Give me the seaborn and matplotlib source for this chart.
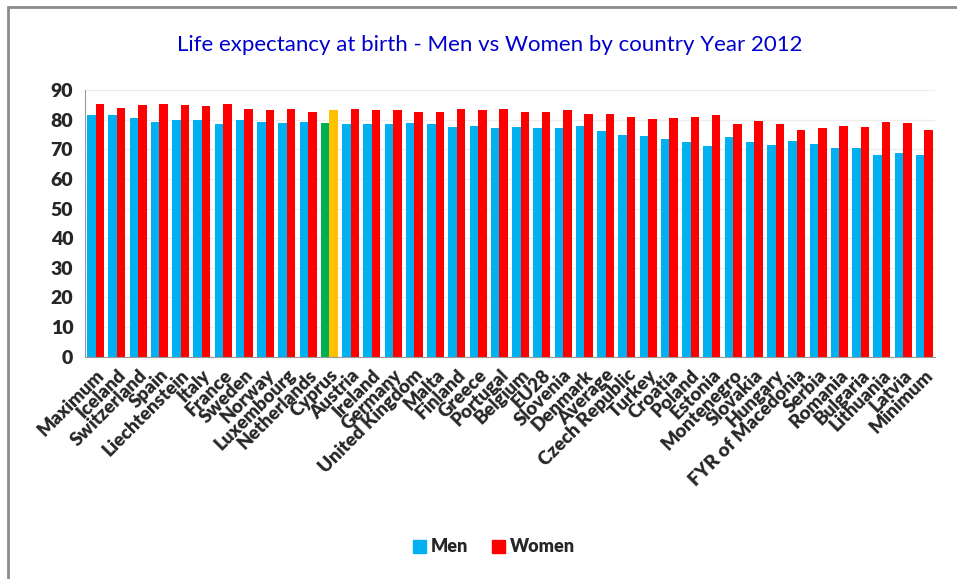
import numpy as np
import pandas as pd
import seaborn as sns
import matplotlib.pyplot as plt
from matplotlib.patches import Rectangle, Patch

# data
countries = ['Maximum', 'Iceland', 'Switzerland', 'Spain', 'Liechtenstein', 'Italy', 'France',
             'Sweden', 'Norway', 'Luxembourg', 'Netherlands', 'Cyprus', 'Austria', 'Ireland',
             'Germany', 'United Kingdom', 'Malta', 'Finland', 'Greece', 'Portugal', 'Belgium',
             'EU28', 'Slovenia', 'Denmark', 'Average', 'Czech Republic', 'Turkey', 'Croatia',
             'Poland', 'Estonia', 'Montenegro', 'Slovakia', 'Hungary', 'FYR of Macedonia',
             'Serbia', 'Romania', 'Bulgaria', 'Lithuania', 'Latvia', 'Minimum']
men = [81.5, 81.5, 80.7, 79.4, 79.8, 79.8, 78.5, 79.8, 79.4, 78.9, 79.4, 78.9, 78.5, 78.5,
       78.5, 78.9, 78.5, 77.6, 78.0, 77.1, 77.6, 77.1, 77.1, 78.0, 76.4, 75.0, 74.5, 73.6,
       72.4, 71.0, 74.1, 72.4, 71.5, 72.9, 72.0, 70.6, 70.6, 68.0, 68.9, 68.0]
women = [85.5, 84.1, 85.0, 85.5, 85.0, 84.6, 85.5, 83.7, 83.2, 83.7, 82.8, 83.2, 83.7, 83.2,
         83.2, 82.8, 82.8, 83.7, 83.2, 83.7, 82.8, 82.8, 83.2, 82.0, 82.0, 81.1, 80.2, 80.6,
         81.1, 81.5, 78.5, 79.7, 78.5, 76.7, 77.1, 78.0, 77.6, 79.4, 78.9, 76.7]
highlight = 'Cyprus'

df = pd.DataFrame({'country': countries * 2,
                   'value': men + women,
                   'sex': ['Men'] * len(men) + ['Women'] * len(women)})

sns.set_style('white')
plt.rcParams['font.family'] = ['Lato', 'DejaVu Sans']

fig = plt.figure(figsize=(9.57, 5.79), dpi=100)
ax = fig.add_axes([85 / 957, 1 - 356.5 / 579, 850 / 957, 266.2 / 579])

blue, red = '#00B0F0', '#FF0000'
sns.barplot(data=df, x='country', y='value', hue='sex', palette=[blue, red],
            order=countries, width=0.8, linewidth=0, saturation=1, legend=False, ax=ax)

# Cyprus bars drawn in other colours
i = countries.index(highlight)
ax.patches[i].set_facecolor('#00B050')
ax.patches[len(countries) + i].set_facecolor('#FFC000')

ax.set_ylim(0, 90)
ax.set_xlim(-0.5, len(countries) - 0.5)
ax.set_yticks(range(0, 91, 10))
ax.yaxis.grid(True, color='#EDEDED', linewidth=1)
ax.set_axisbelow(True)
for s in ['top', 'right']:
    ax.spines[s].set_visible(False)
for s in ['left', 'bottom']:
    ax.spines[s].set_color('#9A9A9A')
ax.set_xlabel('')
ax.set_ylabel('')

ax.set_xticks(range(len(countries)))
ax.set_xticklabels(countries, rotation=45, ha='right', rotation_mode='anchor',
                   fontsize=13.5, fontweight='heavy')
ax.set_xticks(np.arange(-0.5, len(countries)), minor=True)
ax.tick_params(axis='x', which='major', length=0, pad=7)
ax.tick_params(axis='x', which='minor', length=5, color='#9A9A9A', direction='out')
ax.tick_params(axis='y', length=5, color='#9A9A9A', direction='out', labelsize=14)
for t in ax.get_yticklabels():
    t.set_fontweight('heavy')

fig.text(490 / 957, 1 - 45 / 579, 'Life expectancy at birth - Men vs Women by country Year 2012',
         ha='center', va='center', color='#0000CC', fontsize=16)

handles = [Patch(color=blue, label='Men'), Patch(color=red, label='Women')]
fig.legend(handles=handles, loc='center', bbox_to_anchor=(494 / 957, 1 - 547 / 579), ncol=2,
           frameon=False, prop={'weight': 'heavy', 'size': 13}, handlelength=0.7,
           handleheight=0.7, handletextpad=0.3, columnspacing=1.3)

# outer frame
fig.patches.append(Rectangle((8 / 957, -0.1), 1.2, 1 - 7 / 579 + 0.1, transform=fig.transFigure,
                             fill=False, edgecolor='#8C8C8C', linewidth=2))

fig.savefig('out.png', dpi=100)
